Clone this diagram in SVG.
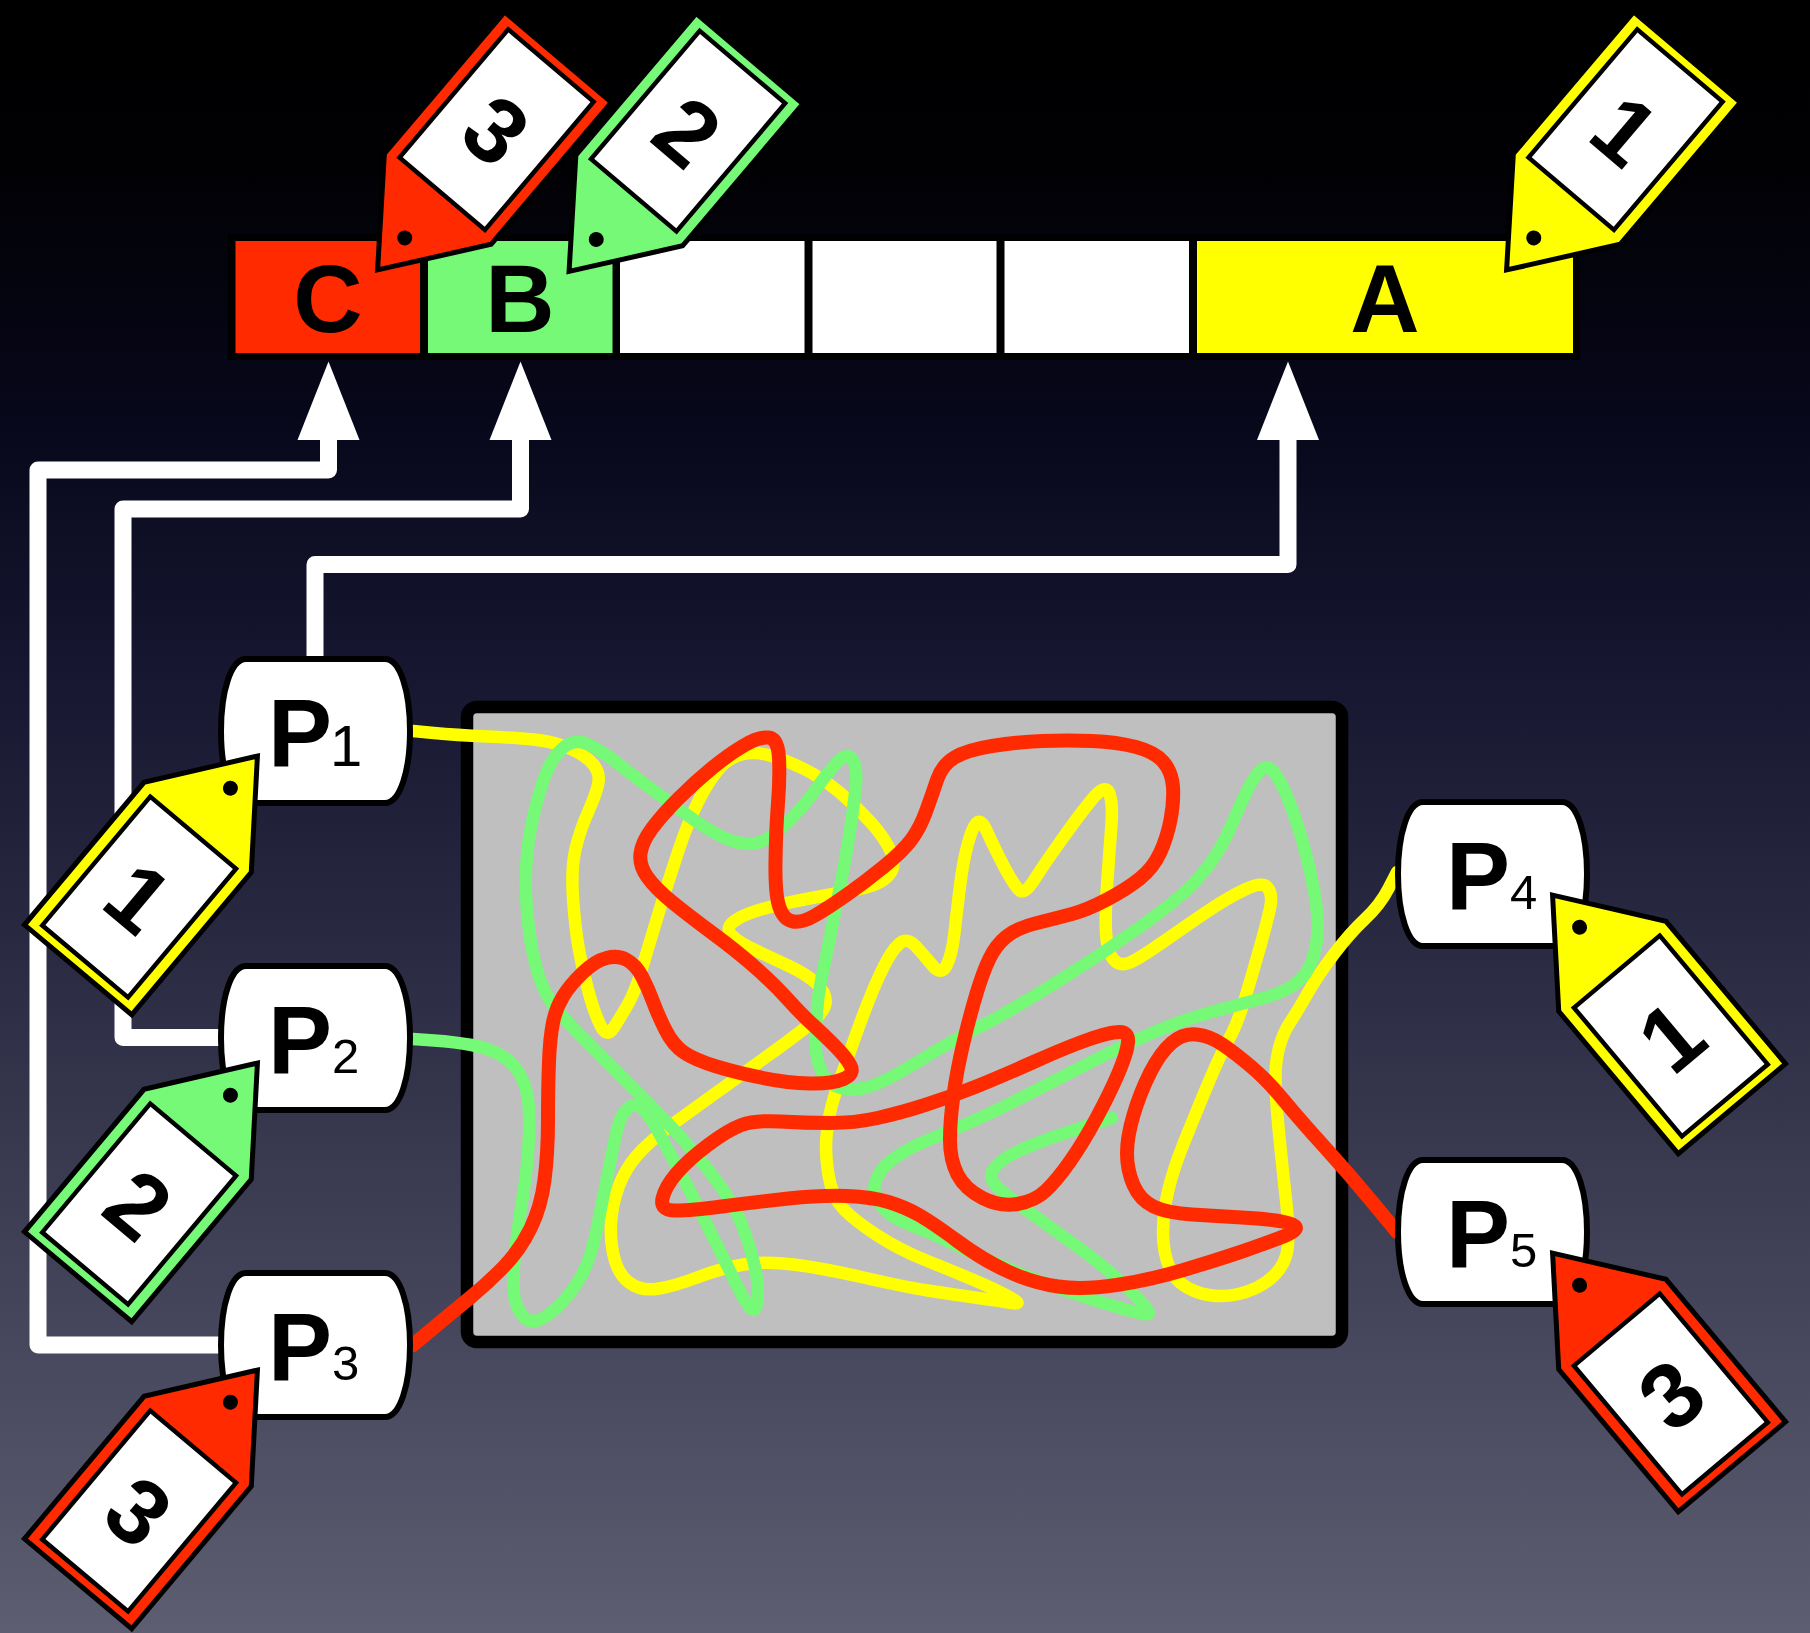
<svg xmlns="http://www.w3.org/2000/svg" xmlns:xlink="http://www.w3.org/1999/xlink" width="1810" height="1633" viewBox="0 0 1810 1633">
<style>
.lbl{font-family:"Liberation Sans",Arial,Helvetica,sans-serif;font-weight:bold;fill:#000}
.cell-text{font-size:96px;text-anchor:middle}
.ptext{font-size:96px}
.sub{font-size:49px;font-weight:normal}
.sub1{font-size:58px}
.tagnum{font-size:92px;text-anchor:middle}
.wire{fill:none;stroke:#fff;stroke-width:17;stroke-linejoin:round}
.arrow{fill:#fff}
.strand{fill:none;stroke-linecap:round;stroke-linejoin:round}
.sy{stroke:#ffff00;stroke-width:12.5}
.sg{stroke:#76f976;stroke-width:12.5}
.sr{stroke:#ff2a00;stroke-width:14}
</style>
<defs>
<linearGradient id="bg" x1="0" y1="0" x2="0" y2="1">
<stop offset="0" stop-color="#000000"/>
<stop offset="0.1" stop-color="#010104"/>
<stop offset="0.25" stop-color="#07071a"/>
<stop offset="0.4" stop-color="#15152f"/>
<stop offset="0.55" stop-color="#26263f"/>
<stop offset="0.7" stop-color="#38384f"/>
<stop offset="0.85" stop-color="#4a4a60"/>
<stop offset="1" stop-color="#5e5e72"/>
</linearGradient>
<g id="tagbase">
<path d="M4,0 L97,-70 L283,-70 L283,70 L97,70 Z" stroke="#000" stroke-width="5" stroke-linejoin="miter"/>
<rect x="104" y="-56" width="168" height="112" fill="#fff" stroke="#000" stroke-width="4.5"/>
<circle cx="46" cy="0" r="7.5" fill="#000"/>
</g>
<path id="pshape" d="M28,3 H167 C182,3 192,35 192,75 C192,115 182,147 167,147 H28 C13,147 3,115 3,75 C3,35 13,3 28,3 Z" fill="#fff" stroke="#000" stroke-width="6"/>
</defs>
<rect x="0" y="0" width="1810" height="1633" fill="url(#bg)"/>

<g id="bar">
<rect x="228" y="234" width="1352" height="126" fill="#000"/>
<rect x="235.5" y="241" width="184.5" height="112" fill="#ff2a00"/>
<rect x="428" y="241" width="184.5" height="112" fill="#76f976"/>
<rect x="620" y="241" width="184.5" height="112" fill="#fff"/>
<rect x="812.5" y="241" width="184" height="112" fill="#fff"/>
<rect x="1004.5" y="241" width="184.5" height="112" fill="#fff"/>
<rect x="1197" y="241" width="376" height="112" fill="#ffff00"/>
<text class="lbl cell-text" x="328" y="332">C</text>
<text class="lbl cell-text" x="520" y="332">B</text>
<text class="lbl cell-text" x="1385" y="332">A</text>
</g>

<g id="mixer">
<rect x="467" y="707" width="875" height="635" rx="10" fill="#bfbfbf" stroke="#000" stroke-width="12.5"/>
</g>

<g id="connectors">
<path class="wire" d="M220,1345 H38 V470 H328.5 V435"/>
<path class="wire" d="M220,1037.5 H123 V509 H520.5 V435"/>
<path class="wire" d="M315,662 V564.5 H1288 V435"/>
<polygon class="arrow" points="328.5,361.5 297.5,440 359.5,440"/>
<polygon class="arrow" points="520.5,361.5 489.5,440 551.5,440"/>
<polygon class="arrow" points="1288,361.5 1257,440 1319,440"/>
<path class="strand sy" d="M413,731 L434,733 Q455,735 487.5,736.5 Q520,738 537.5,740 Q555,742 570,748.5 Q585,755 592.5,763.5 Q600,772 598.5,782 Q597,792 588.5,811 Q580,830 575.5,849 Q571,868 573,898 Q575,928 579,950 Q583,972 589,993.5 Q595,1015 601,1026.5 Q607,1038 613.5,1028 Q620,1018 627.5,1005 Q635,992 641.5,970 Q648,948 658,915 Q668,882 678,852 Q688,822 698,802 Q708,782 718,770 Q728,758 741.5,754.5 Q755,751 771.5,756 Q788,761 805,769.5 Q822,778 838.5,791.5 Q855,805 870,821.5 Q885,838 891,852 Q897,866 888.5,875.5 Q880,885 859,889 Q838,893 806.5,899 Q775,905 757.5,910.5 Q740,916 732.5,922.5 Q725,929 732.5,936 Q740,943 756,950.5 Q772,958 790,966.5 Q808,975 817.5,984.5 Q827,994 825.5,1003.5 Q824,1013 807,1026.5 Q790,1040 764,1058.5 Q738,1077 713,1095 Q688,1113 671.5,1125 Q655,1137 642.5,1149.5 Q630,1162 622.5,1177.5 Q615,1193 612,1213 Q609,1233 613,1253 Q617,1273 628.5,1282 Q640,1291 656,1289 Q672,1287 697,1277.5 Q722,1268 743.5,1264.5 Q765,1261 793.5,1264.5 Q822,1268 863.5,1277.5 Q905,1287 927.5,1290.5 Q950,1294 975,1297.5 Q1000,1301 1012,1303 Q1024,1305 1009.5,1297 Q995,1289 972.5,1279.5 Q950,1270 925,1260 Q900,1250 877.5,1235.5 Q855,1221 843.5,1209 Q832,1197 828.5,1175 Q825,1153 826.5,1136.5 Q828,1120 831.5,1106.5 Q835,1093 841,1076.5 Q847,1060 853.5,1041.5 Q860,1023 868,1002.5 Q876,982 884,966 Q892,950 899.5,943.5 Q907,937 915.5,946 Q924,955 932.5,965.5 Q941,976 946.5,965.5 Q952,955 954.5,932.5 Q957,910 960,886 Q963,862 967.5,845 Q972,828 976.5,823 Q981,818 987,831.5 Q993,845 1002.5,863.5 Q1012,882 1018,889 Q1024,896 1033.5,881 Q1043,866 1060,842 Q1077,818 1091,800.5 Q1105,783 1109,792.5 Q1113,802 1111.5,823.5 Q1110,845 1107.5,878.5 Q1105,912 1106,932 Q1107,952 1113.5,959.5 Q1120,967 1130,962.5 Q1140,958 1161.5,943 Q1183,928 1205,913 Q1227,898 1245,889.5 Q1263,881 1268,888 Q1273,895 1270,908.5 Q1267,922 1260,947 Q1253,972 1245,998.5 Q1237,1025 1228.5,1040 Q1220,1055 1206.5,1087.5 Q1193,1120 1183,1145 Q1173,1170 1168,1191.5 Q1163,1213 1163,1233 Q1163,1253 1170,1269 Q1177,1285 1197,1292 Q1217,1299 1238.5,1294 Q1260,1289 1273.5,1276 Q1287,1263 1288,1245 Q1289,1227 1286,1200 Q1283,1173 1279.5,1138 Q1276,1103 1275.5,1083 Q1275,1063 1279,1048 Q1283,1033 1290,1022.5 Q1297,1012 1307.5,993.5 Q1318,975 1334,954 Q1350,933 1365,919 Q1380,905 1388.5,888.5 L1397,872"/>
<path class="strand sg" d="M413,1039 L434,1040.5 Q455,1042 471.5,1045 Q488,1048 500.5,1055 Q513,1062 520,1074.5 Q527,1087 528.5,1103.5 Q530,1120 528.5,1145 Q527,1170 522.5,1198.5 Q518,1227 515.5,1248.5 Q513,1270 513.5,1287.5 Q514,1305 522,1315 Q530,1325 541.5,1319 Q553,1313 565.5,1298.5 Q578,1284 585,1268.5 Q592,1253 597,1228 Q602,1203 607,1178 Q612,1153 616,1134 Q620,1115 627.5,1108.5 Q635,1102 642.5,1109 Q650,1116 659,1133 Q668,1150 678,1168.5 Q688,1187 698,1207 Q708,1227 718,1247 Q728,1267 736.5,1284.5 Q745,1302 750.5,1308 Q756,1314 757.5,1300.5 Q759,1287 755.5,1270 Q752,1253 745,1233 Q738,1213 729,1199 Q720,1185 707.5,1169 Q695,1153 681.5,1138 Q668,1123 651.5,1106.5 Q635,1090 615,1070 Q595,1050 580,1035 Q565,1020 555,1007.5 Q545,995 538.5,975 Q532,955 528.5,925 Q525,895 526,870 Q527,845 532.5,820 Q538,795 545,776 Q552,757 563.5,747.5 Q575,738 588.5,744.5 Q602,751 618.5,764 Q635,777 651.5,789 Q668,801 686.5,814.5 Q705,828 718.5,835 Q732,842 743.5,843.5 Q755,845 765,840 Q775,835 790,820 Q805,805 816.5,788.5 Q828,772 837.5,762 Q847,752 852.5,759.5 Q858,767 855.5,789.5 Q853,812 849,837 Q845,862 840,887 Q835,912 830,937 Q825,962 821.5,978.5 Q818,995 817,1010 Q816,1025 815.5,1039 Q815,1053 819.5,1066.5 Q824,1080 834.5,1085.5 Q845,1091 858.5,1089 Q872,1087 887.5,1079 Q903,1071 926.5,1056.5 Q950,1042 970,1032 Q990,1022 1011.5,1009.5 Q1033,997 1066.5,976 Q1100,955 1133.5,931.5 Q1167,908 1183.5,893 Q1200,878 1211.5,861.5 Q1223,845 1231.5,825 Q1240,805 1247.5,790 Q1255,775 1261.5,769.5 Q1268,764 1275,773.5 Q1282,783 1289.5,802.5 Q1297,822 1303.5,845 Q1310,868 1314,890 Q1318,912 1317.5,930 Q1317,948 1311.5,962 Q1306,976 1294.5,984.5 Q1283,993 1258,999.5 Q1233,1006 1208,1013 Q1183,1020 1158,1030.5 Q1133,1041 1108,1053.5 Q1083,1066 1058,1079 Q1033,1092 1008,1104.5 Q983,1117 961.5,1126 Q940,1135 922.5,1142.5 Q905,1150 892,1160 Q879,1170 875.5,1181.5 Q872,1193 879,1203 Q886,1213 895.5,1218 Q905,1223 919,1228.5 Q933,1234 966.5,1250 Q1000,1266 1033.5,1279 Q1067,1292 1100,1302 Q1133,1312 1143.5,1314 Q1154,1316 1143.5,1304.5 Q1133,1293 1116.5,1278 Q1100,1263 1075,1245 Q1050,1227 1026.5,1210 Q1003,1193 995.5,1185 Q988,1177 994,1168.5 Q1000,1160 1016.5,1152 Q1033,1144 1056.5,1136 Q1080,1128 1096,1123 L1112,1118"/>
<path class="strand sr" d="M413,1345 L434,1327.5 Q455,1310 471.5,1296.5 Q488,1283 504,1266.5 Q520,1250 530.5,1228.5 Q541,1207 544.5,1180 Q548,1153 548,1120 Q548,1087 549,1062 Q550,1037 553,1022.5 Q556,1008 563,996.5 Q570,985 582.5,973 Q595,961 606.5,958 Q618,955 627,960 Q636,965 642,976.5 Q648,988 653,1001.5 Q658,1015 665.5,1030 Q673,1045 684,1052.5 Q695,1060 716.5,1066.5 Q738,1073 763,1078 Q788,1083 810,1083.5 Q832,1084 843.5,1079 Q855,1074 850.5,1065.5 Q846,1057 834,1045 Q822,1033 812,1024 Q802,1015 788.5,1000 Q775,985 756.5,968.5 Q738,952 713,933.5 Q688,915 671.5,901.5 Q655,888 647,876.5 Q639,865 640.5,853.5 Q642,842 652,828.5 Q662,815 678.5,798.5 Q695,782 711.5,768.5 Q728,755 743,746 Q758,737 768,737.5 Q778,738 779,758 Q780,778 778,803 Q776,828 775.5,861.5 Q775,895 779.5,907.5 Q784,920 793,921.5 Q802,923 815,915.5 Q828,908 846.5,895 Q865,882 884,866.5 Q903,851 911.5,839.5 Q920,828 926,811.5 Q932,795 937,780 Q942,765 954.5,757.5 Q967,750 992,746 Q1017,742 1042,741 Q1067,740 1092,741 Q1117,742 1136,747 Q1155,752 1163.5,762 Q1172,772 1173,787 Q1174,802 1170.5,820 Q1167,838 1160,853 Q1153,868 1140,878.5 Q1127,889 1107,899.5 Q1087,910 1072,914 Q1057,918 1037,923 Q1017,928 1006.5,936.5 Q996,945 989.5,958.5 Q983,972 976.5,993.5 Q970,1015 963.5,1042.5 Q957,1070 953.5,1095 Q950,1120 950,1140 Q950,1160 957.5,1174.5 Q965,1189 982.5,1198 Q1000,1207 1017.5,1204 Q1035,1201 1046,1190.5 Q1057,1180 1070,1161.5 Q1083,1143 1096.5,1118 Q1110,1093 1118.5,1073 Q1127,1053 1128,1042.5 Q1129,1032 1119.5,1032 Q1110,1032 1088.5,1039.5 Q1067,1047 1033.5,1062 Q1000,1077 975,1087 Q950,1097 925,1105 Q900,1113 877.5,1118 Q855,1123 830,1123 Q805,1123 780,1121.5 Q755,1120 741.5,1125 Q728,1130 708,1145 Q688,1160 676.5,1173.5 Q665,1187 662.5,1198.5 Q660,1210 674,1210.5 Q688,1211 721.5,1206.5 Q755,1202 788.5,1198.5 Q822,1195 847,1196 Q872,1197 888.5,1202 Q905,1207 919,1215 Q933,1223 958,1241.5 Q983,1260 1008,1271.5 Q1033,1283 1058,1286.5 Q1083,1290 1116.5,1285 Q1150,1280 1183.5,1270 Q1217,1260 1242,1251.5 Q1267,1243 1284.5,1236 Q1302,1229 1292.5,1224.5 Q1283,1220 1250,1218 Q1217,1216 1192,1214.5 Q1167,1213 1153.5,1206.5 Q1140,1200 1133.5,1185 Q1127,1170 1127,1153.5 Q1127,1137 1133.5,1115 Q1140,1093 1150,1073 Q1160,1053 1171.5,1043 Q1183,1033 1196.5,1034.5 Q1210,1036 1222.5,1044.5 Q1235,1053 1251,1066.5 Q1267,1080 1283.5,1100 Q1300,1120 1325,1147.5 Q1350,1175 1373.5,1203.5 L1397,1232"/>
</g>

<g id="P1" transform="translate(218,656)">
<use xlink:href="#pshape"/>
<text class="lbl ptext" x="50" y="110">P<tspan class="sub sub1" dx="-2">1</tspan></text>
</g>
<g id="P2" transform="translate(218,963)">
<use xlink:href="#pshape"/>
<text class="lbl ptext" x="50" y="110">P<tspan class="sub">2</tspan></text>
</g>
<g id="P3" transform="translate(218,1270)">
<use xlink:href="#pshape"/>
<text class="lbl ptext" x="50" y="110">P<tspan class="sub">3</tspan></text>
</g>
<g id="P4" transform="translate(1395,799)">
<use xlink:href="#pshape"/>
<text class="lbl ptext" x="51" y="110">P<tspan class="sub">4</tspan></text>
</g>
<g id="P5" transform="translate(1395,1157)">
<use xlink:href="#pshape"/>
<text class="lbl ptext" x="51" y="110">P<tspan class="sub">5</tspan></text>
</g>

<g id="tag-C" transform="translate(375,273) rotate(-49.7)">
<use xlink:href="#tagbase" fill="#ff2a00"/>
<text class="lbl tagnum" transform="translate(188,0) rotate(90)" y="33">3</text>
</g>
<g id="tag-B" transform="translate(566.5,274.5) rotate(-49.7)">
<use xlink:href="#tagbase" fill="#76f976"/>
<text class="lbl tagnum" transform="translate(188,0) rotate(90)" y="33">2</text>
</g>
<g id="tag-A" transform="translate(1504,273) rotate(-49.7)">
<use xlink:href="#tagbase" fill="#ffff00"/>
<text class="lbl tagnum" transform="translate(188,0) rotate(90)" y="33">1</text>
</g>
<g id="tag-P1" transform="translate(260,753) rotate(130)">
<use xlink:href="#tagbase" fill="#ffff00"/>
<text class="lbl tagnum" transform="translate(188,0) rotate(-90)" y="33">1</text>
</g>
<g id="tag-P2" transform="translate(260,1060) rotate(130)">
<use xlink:href="#tagbase" fill="#76f976"/>
<text class="lbl tagnum" transform="translate(188,0) rotate(-90)" y="33">2</text>
</g>
<g id="tag-P3" transform="translate(260,1367) rotate(130)">
<use xlink:href="#tagbase" fill="#ff2a00"/>
<text class="lbl tagnum" transform="translate(188,0) rotate(-90)" y="33">3</text>
</g>
<g id="tag-P4" transform="translate(1550,892) rotate(50)">
<use xlink:href="#tagbase" fill="#ffff00"/>
<text class="lbl tagnum" transform="translate(188,0) rotate(-90)" y="33">1</text>
</g>
<g id="tag-P5" transform="translate(1550,1250) rotate(50)">
<use xlink:href="#tagbase" fill="#ff2a00"/>
<text class="lbl tagnum" transform="translate(188,0) rotate(-90)" y="33">3</text>
</g>
</svg>
